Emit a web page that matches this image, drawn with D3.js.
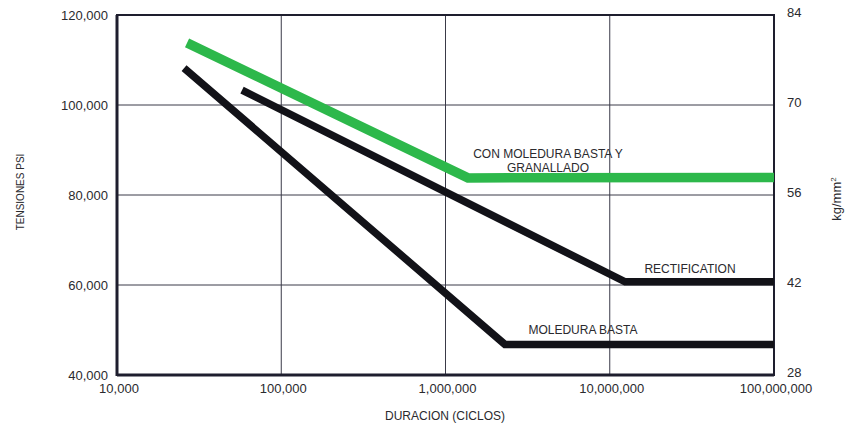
<!DOCTYPE html>
<html>
<head>
<meta charset="utf-8">
<script src="https://cdn.jsdelivr.net/npm/d3@7"></script>
<style>
  body { margin: 0; background: #fff; }
  text { font-family: "Liberation Sans", Arial, sans-serif; fill: #2a2a2e; }
</style>
</head>
<body>
<svg id="chart" width="845" height="426"></svg>
<script>
// cycles (x) and stress in psi (y)
const xTicks = [1e4, 1e5, 1e6, 1e7, 1e8];
const psiTicks = [40000, 60000, 80000, 100000, 120000];
const kgTicks = [28, 42, 56, 70, 84];

const shotCycles = [26700, 1370000, 1e8];
const shotPsi = [113800, 83800, 83900];

const grindCycles = [57700, 12400000, 1e8];
const grindPsi = [103300, 60700, 60700];

const roughCycles = [25600, 2300000, 1e8];
const roughPsi = [108200, 46800, 46800];

const svg = d3.select("#chart");
const plotL = 117, plotR = 774, plotT = 15, plotB = 375;

const x = d3.scaleLog().domain([1e4, 1e8]).range([plotL, plotR]);
const y = d3.scaleLinear().domain([40000, 120000]).range([plotB, plotT]);
const yKg = d3.scaleLinear().domain([28, 84]).range([plotB, plotT]);

const fmt = d3.format(",");

// grid
svg.append("g")
  .selectAll("line")
  .data(xTicks.slice(1, -1))
  .join("line")
  .attr("x1", d => x(d)).attr("x2", d => x(d))
  .attr("y1", plotT).attr("y2", plotB)
  .attr("stroke", "#3a3a48").attr("stroke-width", 1);

svg.append("g")
  .selectAll("line")
  .data(psiTicks.slice(1, -1))
  .join("line")
  .attr("x1", plotL).attr("x2", plotR)
  .attr("y1", d => y(d)).attr("y2", d => y(d))
  .attr("stroke", "#3a3a48").attr("stroke-width", 1);

// frame
svg.append("rect")
  .attr("x", plotL).attr("y", plotT)
  .attr("width", plotR - plotL).attr("height", plotB - plotT)
  .attr("fill", "none").attr("stroke", "#1e1e2e").attr("stroke-width", 2);
svg.append("line")
  .attr("x1", plotL).attr("x2", plotL).attr("y1", plotT).attr("y2", plotB + 1)
  .attr("stroke", "#1e1e2e").attr("stroke-width", 3);
svg.append("line")
  .attr("x1", plotL).attr("x2", plotR).attr("y1", plotB).attr("y2", plotB)
  .attr("stroke", "#1e1e2e").attr("stroke-width", 3);

// curves
const line = d3.line().x(d => x(d[0])).y(d => y(d[1]));
const curves = [
  { cyc: shotCycles, psi: shotPsi, color: "#2db84b", w: 9.5 },
  { cyc: grindCycles, psi: grindPsi, color: "#121218", w: 7.5 },
  { cyc: roughCycles, psi: roughPsi, color: "#121218", w: 7.5 }
];
svg.append("g")
  .selectAll("path")
  .data(curves)
  .join("path")
  .attr("d", d => line(d.cyc.map((c, i) => [c, d.psi[i]])))
  .attr("fill", "none")
  .attr("stroke", d => d.color)
  .attr("stroke-width", d => d.w)
  .attr("stroke-linejoin", "miter");

// left axis labels
svg.append("g")
  .selectAll("text")
  .data(psiTicks)
  .join("text")
  .attr("x", 108).attr("y", d => y(d) + 5)
  .attr("text-anchor", "end")
  .attr("font-size", 13)
  .text(d => fmt(d));

// right axis labels
svg.append("g")
  .selectAll("text")
  .data(kgTicks)
  .join("text")
  .attr("x", 787).attr("y", d => yKg(d) + 2)
  .attr("font-size", 13)
  .text(d => d);

// bottom axis labels
svg.append("g")
  .selectAll("text")
  .data(xTicks)
  .join("text")
  .attr("x", d => x(d) + 2).attr("y", 393)
  .attr("text-anchor", "middle")
  .attr("font-size", 13)
  .text(d => fmt(d));

// axis titles
svg.append("text")
  .attr("x", 445).attr("y", 420)
  .attr("text-anchor", "middle").attr("font-size", 12)
  .text("DURACION (CICLOS)");

svg.append("text")
  .attr("transform", "translate(24,192) rotate(-90)")
  .attr("text-anchor", "middle").attr("font-size", 10)
  .text("TENSIONES PSI");

const kg = svg.append("text")
  .attr("transform", "translate(841,199) rotate(-90)")
  .attr("text-anchor", "middle").attr("font-size", 13);
kg.append("tspan").text("kg/mm");
kg.append("tspan").attr("font-size", 8).attr("dy", -5).text("2");

// curve labels
svg.append("text")
  .attr("x", 548).attr("y", 158)
  .attr("text-anchor", "middle").attr("font-size", 12)
  .text("CON MOLEDURA BASTA Y");
svg.append("text")
  .attr("x", 548).attr("y", 172)
  .attr("text-anchor", "middle").attr("font-size", 12)
  .text("GRANALLADO");
svg.append("text")
  .attr("x", 690).attr("y", 273)
  .attr("text-anchor", "middle").attr("font-size", 12)
  .text("RECTIFICATION");
svg.append("text")
  .attr("x", 583).attr("y", 334)
  .attr("text-anchor", "middle").attr("font-size", 12)
  .text("MOLEDURA BASTA");
</script>
</body>
</html>
